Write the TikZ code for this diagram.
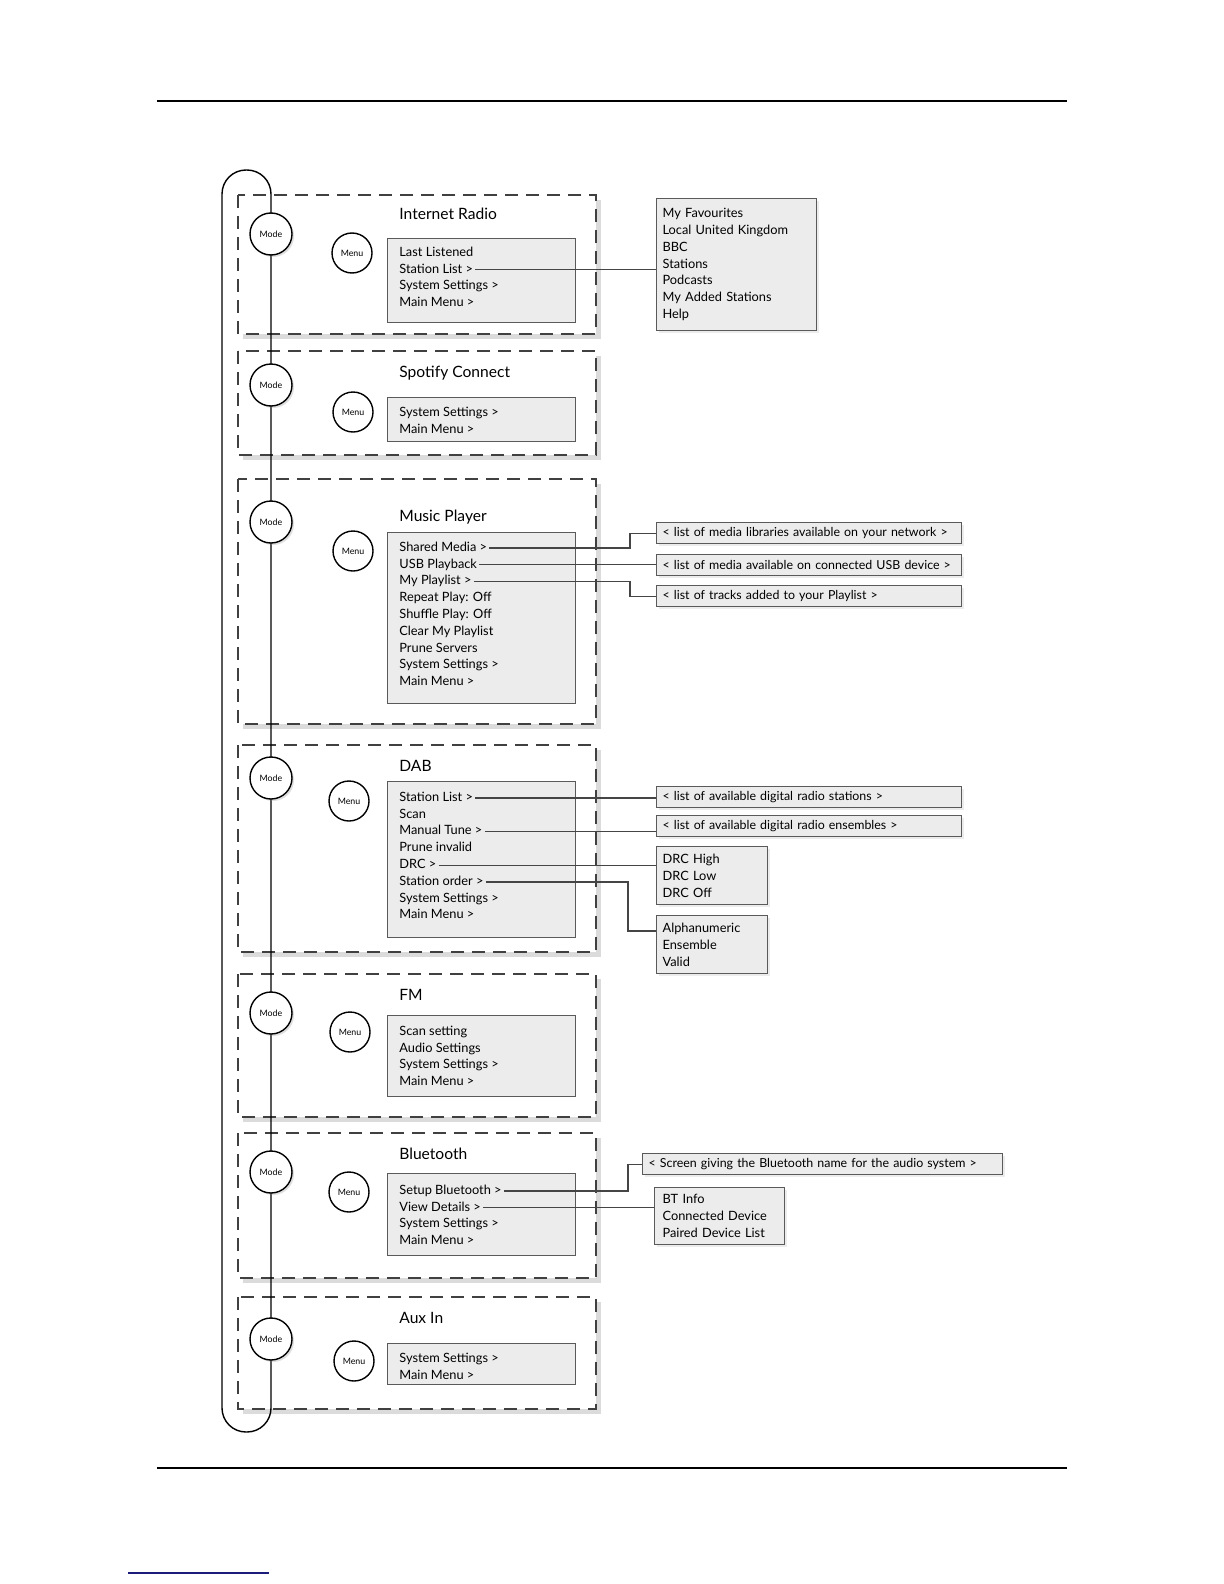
\documentclass[tikz,border=0pt]{standalone}
\usepackage{fontspec}
\setmainfont{Lato}
\usetikzlibrary{calc,shadows}
\usepackage{xcolor}
\definecolor{cpanel}{HTML}{ECECEC}
\definecolor{cedge}{HTML}{5A5A5A}
\definecolor{cwire}{HTML}{454545}
\definecolor{clink}{HTML}{1C1C7A}
\tikzset{
	every picture/.style={font=\fontsize{6.4}{8.4}\selectfont,},
	ttl/.style={font=\fontsize{7.8}{7.8}\selectfont, anchor=west, inner sep=0},
	btn/.style={font=\fontsize{4.4}{4.4}\selectfont,},
	lw/.style={line width=0.7pt,},
	%%%
	modebox/.style={draw=black!75, line width=1pt, dash pattern=on 6.5pt off 4pt, fill=white,
		drop shadow={shadow xshift=2.5pt, shadow yshift=-2.5pt, opacity=0.28}},
	panel/.style={draw=cedge, line width=0.6pt, fill=cpanel},
	sub/.style={panel, anchor=north west, inner xsep=3pt, inner ysep=0pt, align=left,
		drop shadow={shadow xshift=1pt, shadow yshift=-1pt, opacity=0.15}},
	oneline/.style={sub, minimum height=10.5pt, font=\fontsize{6.2}{8.4}\selectfont},
	item/.style={anchor=west, inner sep=0, text height=4.6pt, text depth=1.4pt},
	%%%
	modebtn/.style={circle, draw=black, lw, fill=white, minimum size=21pt, inner sep=0, btn,
		drop shadow={shadow xshift=1pt, shadow yshift=-1pt, opacity=0.25}},
	menubtn/.style={circle, draw=black, lw, fill=white, minimum size=20pt, inner sep=0, btn},
	wire/.style={cwire, line width=0.55pt},
	rule/.style={black, line width=0.75pt},
}
\gdef\pitch{16.8}
\gdef\xL{238}
\gdef\xR{596}

\begin{document}
\begin{tikzpicture}[x=0.5pt, y=-0.5pt]

	\useasboundingbox (0,0) rectangle (1224,1584);
	\fill[white] (0,0) rectangle (1224,1584);

	%%% Page rules

	\draw[rule] (157,101) -- (1067,101);
	\draw[rule] (157,1468) -- (1067,1468);
	\draw[clink, line width=0.8pt] (128,1573) -- (269,1573);

	%%% Mode frames

	\draw[modebox] (\xL,195) rectangle (\xR,334);
	\draw[modebox] (\xL,351) rectangle (\xR,455);
	\draw[modebox] (\xL,479) rectangle (\xR,724);
	\draw[modebox] (\xL,745) rectangle (\xR,952);
	\draw[modebox] (\xL,974) rectangle (\xR,1117);
	\draw[modebox] (\xL,1133) rectangle (\xR,1278);
	\draw[modebox] (\xL,1297) rectangle (\xR,1409);

	%%% Mode loop

	\draw[lw, rounded corners=12pt] (222,170) rectangle (271,1432);

	%%% Internet Radio

	\node[modebtn] (irmode) at (271,234) {Mode};
	\node[menubtn] (irmenu) at (352,253) {Menu};
	\node[ttl] (irtitle) at (399,214) {Internet Radio};
	\node[panel, anchor=north west, minimum width=94pt, minimum height=42pt] (irpanel) at (387,238) {};
	\foreach \t [count=\i] in {Last Listened, Station List >, System Settings >, Main Menu >}
		\node[item] (ir\i) at (399,{253+\pitch*(\i-1)}) {\t};
	\node[sub, minimum width=80pt, minimum height=66pt, text width=74pt] (irlist) at (656,198)
		{My Favourites\\Local United Kingdom\\BBC\\Stations\\Podcasts\\My Added Stations\\Help};
	\draw[wire] ($(ir2.east)+(2,0)$) -- (irlist.west |- ir2.east);

	%%% Spotify Connect

	\node[modebtn] (spmode) at (271,385) {Mode};
	\node[menubtn] (spmenu) at (353,412) {Menu};
	\node[ttl] (sptitle) at (399,373) {Spotify Connect};
	\node[panel, anchor=north west, minimum width=94pt, minimum height=22pt] (sppanel) at (387,397) {};
	\foreach \t [count=\i] in {System Settings >, Main Menu >}
		\node[item] (sp\i) at (399,{413+\pitch*(\i-1)}) {\t};

	%%% Music Player

	\node[modebtn] (mpmode) at (271,522) {Mode};
	\node[menubtn] (mpmenu) at (353,551) {Menu};
	\node[ttl] (mptitle) at (399,517) {Music Player};
	\node[panel, anchor=north west, minimum width=94pt, minimum height=85.5pt] (mppanel) at (387,532) {};
	\foreach \t [count=\i] in {Shared Media >, USB Playback, My Playlist >, Repeat Play: Off,
		Shuffle Play: Off, Clear My Playlist, Prune Servers, System Settings >, Main Menu >}
		\node[item] (mp\i) at (399,{548+\pitch*(\i-1)}) {\t};
	\node[oneline, minimum width=152.5pt, text width=146.5pt] (mpnet) at (656,522)
		{\mbox{< list of media libraries available on your network >}};
	\node[oneline, minimum width=152.5pt, text width=146.5pt] (mpusb) at (656,554)
		{\mbox{< list of media available on connected USB device >}};
	\node[oneline, minimum width=152.5pt, text width=146.5pt] (mptracks) at (656,585)
		{\mbox{< list of tracks added to your Playlist >}};
	\coordinate (mpknee) at (630,0);
	\draw[wire] ($(mp1.east)+(2,0)$) -- (mpknee |- mp1.east) -- (mpknee |- mpnet.west) -- (mpnet.west);
	\draw[wire] ($(mp2.east)+(2,0)$) -- (mpusb.west |- mp2.east);
	\draw[wire] ($(mp3.east)+(2,0)$) -- (mpknee |- mp3.east) -- (mpknee |- mptracks.west) -- (mptracks.west);

	%%% DAB

	\node[modebtn] (dabmode) at (271,778) {Mode};
	\node[menubtn] (dabmenu) at (349,801) {Menu};
	\node[ttl] (dabtitle) at (399,766) {DAB};
	\node[panel, anchor=north west, minimum width=94pt, minimum height=78pt] (dabpanel) at (387,781) {};
	\foreach \t [count=\i] in {Station List >, Scan, Manual Tune >, Prune invalid, DRC >,
		Station order >, System Settings >, Main Menu >}
		\node[item] (dab\i) at (399,{798+\pitch*(\i-1)}) {\t};
	\node[oneline, minimum width=152.5pt, text width=146.5pt] (dabstations) at (656,786)
		{\mbox{< list of available digital radio stations >}};
	\node[oneline, minimum width=152.5pt, text width=146.5pt] (dabensembles) at (656,815)
		{\mbox{< list of available digital radio ensembles >}};
	\node[sub, minimum width=55.5pt, minimum height=29pt, text width=49.5pt] (dabdrc) at (656,846)
		{DRC High\\DRC Low\\DRC Off};
	\node[sub, minimum width=55.5pt, minimum height=29pt, text width=49.5pt] (daborder) at (656,915)
		{Alphanumeric\\Ensemble\\Valid};
	\coordinate (dabknee) at (628,0);
	\draw[wire] ($(dab1.east)+(2,0)$) -- (dabstations.west |- dab1.east);
	\draw[wire] ($(dab3.east)+(2,0)$) -- (dabensembles.west |- dab3.east);
	\draw[wire] ($(dab5.east)+(2,0)$) -- (dabdrc.west |- dab5.east);
	\draw[wire] ($(dab6.east)+(2,0)$) -- (dabknee |- dab6.east) -- ($(dabknee |- daborder.north)+(0,16)$)
		-- ($(daborder.north west)+(0,16)$);

	%%% FM

	\node[modebtn] (fmmode) at (271,1013) {Mode};
	\node[menubtn] (fmmenu) at (350,1032) {Menu};
	\node[ttl] (fmtitle) at (399,995) {FM};
	\node[panel, anchor=north west, minimum width=94pt, minimum height=40.5pt] (fmpanel) at (387,1015) {};
	\foreach \t [count=\i] in {Scan setting, Audio Settings, System Settings >, Main Menu >}
		\node[item] (fm\i) at (399,{1032+\pitch*(\i-1)}) {\t};

	%%% Bluetooth

	\node[modebtn] (btmode) at (271,1172) {Mode};
	\node[menubtn] (btmenu) at (349,1192) {Menu};
	\node[ttl] (bttitle) at (399,1154) {Bluetooth};
	\node[panel, anchor=north west, minimum width=94pt, minimum height=41pt] (btpanel) at (387,1173) {};
	\foreach \t [count=\i] in {Setup Bluetooth >, View Details >, System Settings >, Main Menu >}
		\node[item] (bt\i) at (399,{1191+\pitch*(\i-1)}) {\t};
	\node[oneline, minimum width=180pt, text width=174pt] (btname) at (642,1153)
		{\mbox{< Screen giving the Bluetooth name for the audio system >}};
	\node[sub, minimum width=65pt, minimum height=28.5pt, text width=57pt, inner xsep=4pt] (btdetails) at (654,1187)
		{BT Info\\Connected Device\\Paired Device List};
	\coordinate (btknee) at (628,0);
	\draw[wire] ($(bt1.east)+(2,0)$) -- (btknee |- bt1.east) -- (btknee |- btname.west) -- (btname.west);
	\draw[wire] ($(bt2.east)+(2,0)$) -- (btdetails.west |- bt2.east);

	%%% Aux In

	\node[modebtn] (auxmode) at (271,1339) {Mode};
	\node[menubtn] (auxmenu) at (354,1361) {Menu};
	\node[ttl] (auxtitle) at (399,1318) {Aux In};
	\node[panel, anchor=north west, minimum width=94pt, minimum height=20.5pt] (auxpanel) at (387,1343) {};
	\foreach \t [count=\i] in {System Settings >, Main Menu >}
		\node[item] (aux\i) at (399,{1359+\pitch*(\i-1)}) {\t};

\end{tikzpicture}
\end{document}
